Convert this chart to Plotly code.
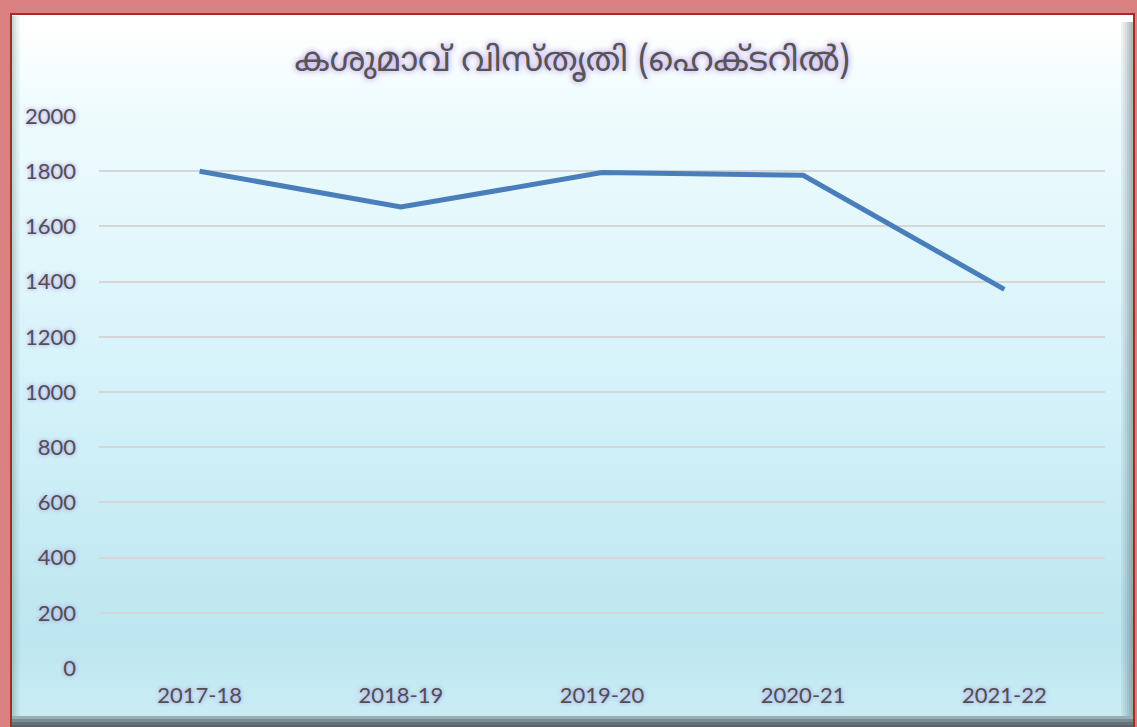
import plotly.graph_objects as go

years = ["2017-18", "2018-19", "2019-20", "2020-21", "2021-22"]
area_ha = [1800, 1670, 1795, 1785, 1372]
y_ticks = [0, 200, 400, 600, 800, 1000, 1200, 1400, 1600, 1800, 2000]
title_text = "കശുമാവ് വിസ്തൃതി (ഹെക്ടറിൽ)"

W, H = 1137, 727
L, R, T, B = 99, 1105, 116, 668

fig = go.Figure()
fig.add_trace(go.Scatter(
    x=years, y=area_ha, mode="lines",
    line=dict(color="#4a7ebb", width=5),
    hoverinfo="x+y", showlegend=False,
))


def px_x(p):
    return (p - L) / (R - L)


def px_y(p):
    return (B - p) / (B - T)


def rect(x0, x1, y0, y1, color, layer="below"):
    return dict(type="rect", xref="paper", yref="paper",
                x0=px_x(x0), x1=px_x(x1), y0=px_y(y1), y1=px_y(y0),
                fillcolor=color, line=dict(width=0), layer=layer)


shapes = []
# vertical gradient background: (pixel y, rgb)
stops = [(0, (255, 255, 255)), (30, (255, 255, 255)), (100, (240, 252, 254)),
         (400, (212, 242, 250)), (640, (189, 230, 240)), (712, (202, 237, 245))]


def color_at(y):
    for (ya, ca), (yb, cb) in zip(stops[:-1], stops[1:]):
        if ya <= y <= yb:
            t = (y - ya) / (yb - ya)
            return tuple(int(ca[k] + (cb[k] - ca[k]) * t) for k in range(3))
    return stops[-1][1]


step = 8
for y in range(0, 716, step):
    c = color_at(y + step / 2)
    shapes.append(rect(0, W, y, min(y + step + 1, 716), "rgb(%d,%d,%d)" % c))

# bottom bevel shading
bevel = [(716, (150, 175, 180)), (719, (120, 140, 145)), (722, (100, 115, 120)), (725, (90, 100, 105))]
for (y, c) in bevel:
    shapes.append(rect(0, W, y, y + 3, "rgb(%d,%d,%d)" % c, layer="above"))
# right inner shading
for i, a in enumerate([0.08, 0.15, 0.22, 0.3, 0.38, 0.45]):
    x = 1121 + i * 2
    shapes.append(rect(x, x + 2, 22, 716, "rgba(80,100,105,%.2f)" % a, layer="above"))
# left inner shading
for i, a in enumerate([0.3, 0.2, 0.12, 0.06]):
    x = 12 + i * 2
    shapes.append(rect(x, x + 2, 16, 716, "rgba(80,120,125,%.2f)" % a, layer="above"))

# red outer frame
band = "rgb(218,128,128)"
shapes += [
    rect(0, 10, 0, H, band, layer="above"),
    rect(0, W, 0, 13, band, layer="above"),
    rect(1134, W, 0, H, band, layer="above"),
]
dark = "#a52a2a"
shapes += [
    rect(10, 12, 13, H, dark, layer="above"),
    rect(10, 1135, 13, 15, dark, layer="above"),
    rect(1133, 1135, 13, H, dark, layer="above"),
]

glow = "0px 0px 4px rgb(170,140,225)"
tick_font = dict(size=22, color="#505050", family="Lato, Open Sans, sans-serif", shadow=glow)

fig.update_layout(
    width=W, height=H,
    margin=dict(l=L, r=W - R, t=T, b=H - B, pad=0),
    paper_bgcolor="white", plot_bgcolor="rgba(0,0,0,0)",
    shapes=shapes,
    title=dict(text=title_text, x=572 / W, xref="container", xanchor="center", y=1 - 59 / H, yanchor="middle",
               font=dict(size=34, color="#555555", family="Noto Sans Malayalam, Noto Sans, DejaVu Sans, sans-serif",
                         shadow="0px 0px 6px rgb(170,130,225)")),
    xaxis=dict(type="category", showgrid=False, zeroline=False, showline=False, ticks="",
               ticklabelstandoff=12, tickfont=tick_font, range=[-0.5, 4.5]),
    yaxis=dict(range=[0, 2000], tickvals=y_ticks, showgrid=True, gridcolor="#d6d6d6", gridwidth=1.5,
               zeroline=False, showline=False, ticks="", ticklabelstandoff=22, tickfont=tick_font),
)

fig.write_html("out.html", config={"displayModeBar": False},
               post_script="document.body.style.margin='0';document.body.style.overflow='hidden';")
